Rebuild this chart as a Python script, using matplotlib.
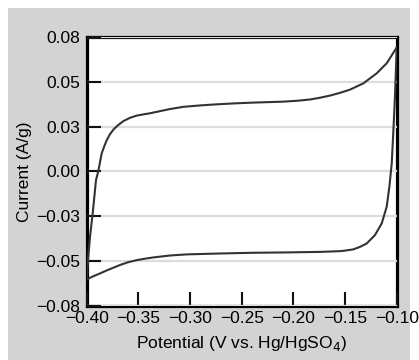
import matplotlib
matplotlib.use("Agg")
import matplotlib.pyplot as plt
from matplotlib.patches import Rectangle

# Anodic (upper) sweep
potential_fwd = [-0.4000, -0.3985, -0.3968, -0.3942, -0.3910, -0.3888, -0.3855, -0.3830,
                 -0.3806, -0.3775, -0.3740, -0.3700, -0.3646, -0.3580, -0.3516, -0.3450,
                 -0.3387, -0.3290, -0.3200, -0.3065, -0.2900, -0.2742, -0.2580, -0.2420,
                 -0.2260, -0.2097, -0.1960, -0.1839, -0.1740, -0.1645, -0.1550, -0.1452,
                 -0.1323, -0.1194, -0.1097, -0.1016, -0.1000]
current_fwd = [-0.0604, -0.0480, -0.0366, -0.0235, -0.0049, 0.0000, 0.0100, 0.0140,
               0.0174, 0.0207, 0.0234, 0.0256, 0.0280, 0.0299, 0.0311, 0.0318,
               0.0324, 0.0336, 0.0347, 0.0360, 0.0368, 0.0374, 0.0379, 0.0383,
               0.0386, 0.0389, 0.0394, 0.0401, 0.0411, 0.0423, 0.0438, 0.0456,
               0.0491, 0.0547, 0.0603, 0.0677, 0.0690]

# Cathodic (lower) sweep
potential_rev = [-0.1000, -0.1016, -0.1032, -0.1048, -0.1071, -0.1097, -0.1145, -0.1210,
                 -0.1290, -0.1355, -0.1420, -0.1500, -0.1550, -0.1640, -0.1740, -0.2065,
                 -0.2390, -0.2710, -0.3030, -0.3190, -0.3355, -0.3435, -0.3516, -0.3600,
                 -0.3677, -0.3740, -0.3800, -0.3870, -0.3940, -0.4000]
current_rev = [0.0690, 0.0426, 0.0230, 0.0044, -0.0087, -0.0198, -0.0291, -0.0356,
               -0.0403, -0.0422, -0.0436, -0.0443, -0.0446, -0.0448, -0.0450, -0.0453,
               -0.0455, -0.0459, -0.0464, -0.0470, -0.0481, -0.0488, -0.0496, -0.0508,
               -0.0523, -0.0538, -0.0552, -0.0570, -0.0587, -0.0604]

x_ticks = [-0.40, -0.35, -0.30, -0.25, -0.20, -0.15, -0.10]
x_labels = ["\u22120.40", "\u22120.35", "\u22120.30", "\u22120.25", "\u22120.20", "\u22120.15", "\u22120.10"]
y_ticks = [-0.075, -0.05, -0.025, 0.0, 0.025, 0.05, 0.075]
y_labels = ["\u22120.08", "\u22120.05", "\u22120.03", "0.00", "0.03", "0.05", "0.08"]

plt.rcParams['font.family'] = ['Liberation Sans', 'DejaVu Sans']

W, H = 419, 360
fig = plt.figure(figsize=(W / 100, H / 100), dpi=100)
fig.patch.set_facecolor("white")
bg = Rectangle((8 / W, 0), (410 - 8) / W, (H - 8) / H,
               transform=fig.transFigure, facecolor="#d3d3d3",
               edgecolor="none", zorder=-10)
fig.add_artist(bg)

ax = fig.add_axes([86.7 / W, 1 - 305.6 / H, 310 / W, (305.6 - 37) / H])
ax.set_zorder(1)
ax.set_facecolor("white")

ax.plot(potential_fwd, current_fwd, color="#333333", lw=1.5, solid_joinstyle="round", zorder=3)
ax.plot(potential_rev, current_rev, color="#333333", lw=1.5, solid_joinstyle="round", zorder=3)

ax.set_xlim(-0.40, -0.10)
ax.set_ylim(-0.075, 0.075)
ax.set_xticks(x_ticks, x_labels)
ax.set_yticks(y_ticks, y_labels)

ax.yaxis.grid(True, color="#dcdcdc", lw=1.6)
ax.set_axisbelow(False)

for s in ax.spines.values():
    s.set_linewidth(2.3)
    s.set_color("black")

ax.set_xlabel("Potential (V vs. Hg/HgSO$_4$)", fontsize=12.5, labelpad=6)
ax.set_ylabel("Current (A/g)", fontsize=12.5, labelpad=3)

ax.tick_params(axis="both", which="major", direction="in", length=10, width=1.5,
               color="#111111", labelsize=12.5, labelcolor="black")
ax.tick_params(axis="y", pad=5)
ax.tick_params(axis="x", pad=4)

fig.savefig("out.png", dpi=100)
